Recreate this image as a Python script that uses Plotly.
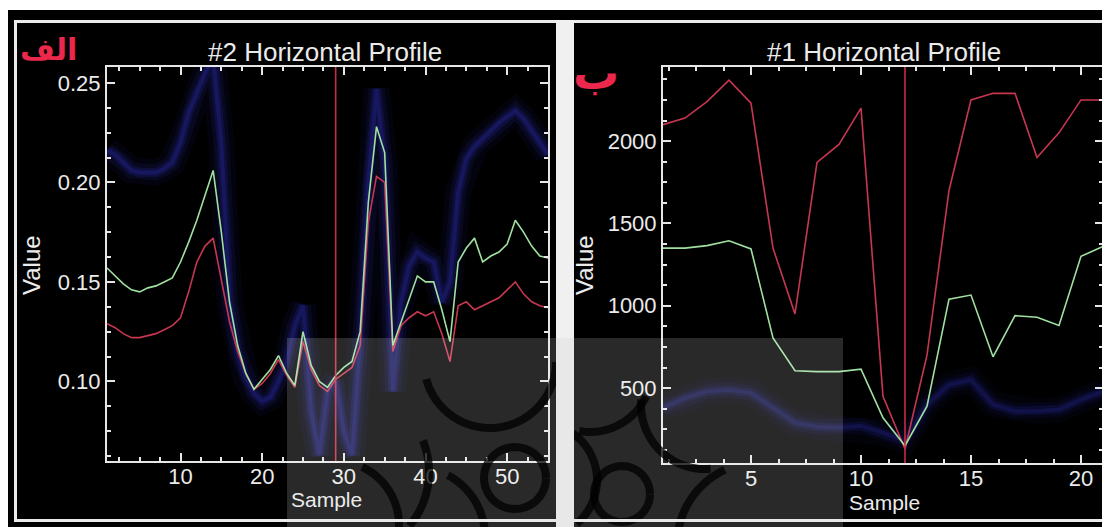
import numpy as np
import plotly.graph_objects as go

# page body has an 8px margin; figure fills the rest of the 1110x527 window
OFF = 8
W, H = 1110 - OFF, 527 - OFF

# ---------------- data ----------------
samples_left = list(range(1, 56))
green_left = [0.157, 0.153, 0.149, 0.146, 0.145, 0.147, 0.148, 0.150, 0.152, 0.160,
              0.170, 0.181, 0.193, 0.206, 0.175, 0.140, 0.118, 0.104, 0.096, 0.101,
              0.106, 0.113, 0.104, 0.098, 0.125, 0.108, 0.100, 0.097, 0.103, 0.107,
              0.110, 0.125, 0.190, 0.228, 0.215, 0.118, 0.130, 0.142, 0.153, 0.150,
              0.150, 0.136, 0.120, 0.160, 0.167, 0.172, 0.160, 0.163, 0.165, 0.169,
              0.181, 0.175, 0.168, 0.163, 0.162]
red_left = [0.129, 0.127, 0.124, 0.122, 0.122, 0.123, 0.124, 0.126, 0.128, 0.132,
            0.145, 0.160, 0.168, 0.172, 0.150, 0.130, 0.115, 0.104, 0.096, 0.099,
            0.104, 0.111, 0.103, 0.097, 0.120, 0.106, 0.098, 0.095, 0.101, 0.104,
            0.107, 0.118, 0.180, 0.203, 0.200, 0.115, 0.128, 0.132, 0.135, 0.133,
            0.135, 0.124, 0.110, 0.138, 0.140, 0.136, 0.138, 0.140, 0.142, 0.146,
            0.150, 0.144, 0.140, 0.138, 0.137]
blue_left = [0.216, 0.214, 0.210, 0.206, 0.205, 0.205, 0.205, 0.207, 0.210, 0.220,
             0.235, 0.245, 0.255, 0.262, 0.220, 0.140, 0.115, 0.102, 0.094, 0.090,
             0.092, 0.100, 0.110, 0.128, 0.138, 0.085, 0.063, 0.095, 0.100, 0.075,
             0.063, 0.120, 0.200, 0.247, 0.210, 0.095, 0.140, 0.158, 0.165, 0.162,
             0.160, 0.140, 0.150, 0.195, 0.212, 0.218, 0.222, 0.226, 0.230, 0.233,
             0.236, 0.232, 0.226, 0.220, 0.214]
cursor_left = 29

samples_right = list(range(1, 22))
red_right = [2100, 2140, 2240, 2370, 2230, 1350, 950, 1870, 1980, 2200, 450,
             130, 700, 1700, 2250, 2290, 2290, 1900, 2050, 2250, 2250]
green_right = [1350, 1350, 1365, 1395, 1345, 805, 605, 600, 600, 615, 320,
               150, 390, 1040, 1065, 690, 940, 930, 880, 1300, 1360]
blue_right = [380, 440, 480, 490, 470, 380, 290, 265, 260, 270, 230,
              180, 400, 520, 550, 400, 360, 360, 370, 430, 480]
cursor_right = 12

titles = ["#2 Horizontal Profile", "#1 Horizontal Profile"]
panel_marks = ["الف", "ب"]

# helpers: screen pixel (reference window) -> paper fraction
def PX(px):
    return (px - OFF) / W

def PY(py):
    return 1 - (py - OFF) / H

# ---------------- figure ----------------
fig = go.Figure()

def add_profile(xs, red, green, blue, xa, ya, glow):
    for w, a in [(26, 0.06 * glow), (16, 0.10 * glow), (9, 0.16 * glow), (4, 0.22 * glow)]:
        fig.add_trace(go.Scatter(x=xs, y=blue, mode="lines", xaxis=xa, yaxis=ya,
                                 line=dict(color=f"rgba(55,55,215,{a:.3f})", width=w),
                                 hoverinfo="skip", showlegend=False))
    fig.add_trace(go.Scatter(x=xs, y=red, mode="lines", xaxis=xa, yaxis=ya,
                             line=dict(color="rgb(200,55,80)", width=1.6),
                             showlegend=False))
    fig.add_trace(go.Scatter(x=xs, y=green, mode="lines", xaxis=xa, yaxis=ya,
                             line=dict(color="rgb(160,225,160)", width=1.6),
                             showlegend=False))

add_profile(samples_left, red_left, green_left, blue_left, "x", "y", 1.0)
add_profile(samples_right, red_right, green_right, blue_right, "x2", "y2", 0.75)

TICKFONT = dict(family="Liberation Sans, Arial, sans-serif", size=22, color="rgb(235,235,235)")

def axis_common(**kw):
    d = dict(showgrid=False, zeroline=False, showline=True, linecolor="rgb(230,230,230)",
             linewidth=2, mirror="ticks", ticks="inside", ticklen=8, tickwidth=1.5,
             tickcolor="rgb(230,230,230)", tickfont=TICKFONT, fixedrange=True)
    d.update(kw)
    return d

def minor(dt, t0=0):
    return dict(ticks="inside", ticklen=4, tickwidth=1.5, tickcolor="rgb(230,230,230)",
                dtick=dt, tick0=t0, showgrid=False)

fig.update_layout(
    width=W, height=H, autosize=False,
    margin=dict(l=0, r=0, t=0, b=0, pad=0),
    paper_bgcolor="black", plot_bgcolor="rgba(0,0,0,0)",
    showlegend=False,
    xaxis=axis_common(domain=[PX(107), PX(548)], range=[1, 55], dtick=10, tick0=0,
                      minor=minor(2.5), anchor="y", ticklabelstandoff=-5),
    yaxis=axis_common(domain=[PY(461), PY(67)], range=[0.06, 0.258], dtick=0.05, tick0=0,
                      tickformat=".2f", minor=minor(0.0125), anchor="x"),
    xaxis2=axis_common(domain=[PX(663), PX(1103)], range=[1, 21], dtick=5, tick0=0,
                       minor=minor(1.25), anchor="y2", ticklabelstandoff=-5),
    yaxis2=axis_common(domain=[PY(463), PY(67)], range=[45, 2450], dtick=500, tick0=0,
                       minor=minor(125), anchor="x2"),
)

shapes = []
def prect(x0, y0, x1, y1, color, layer="below"):
    shapes.append(dict(type="rect", xref="paper", yref="paper",
                       x0=PX(x0), x1=PX(x1), y0=PY(y1), y1=PY(y0),
                       fillcolor=color, line=dict(width=0), layer=layer))

# white surroundings / frame
prect(0, 0, 1110, 10, "white")
prect(14, 20, 1110, 23, "rgb(235,235,235)")
prect(14, 20, 17, 522, "rgb(235,235,235)")
prect(14, 519, 1110, 522, "rgb(235,235,235)")
prect(556, 20, 574, 527, "rgb(240,240,240)")

# cursor lines
for xa, ya, c in [("x", "y domain", cursor_left), ("x2", "y2 domain", cursor_right)]:
    shapes.append(dict(type="line", xref=xa, yref=ya, x0=c, x1=c, y0=0, y1=1,
                       line=dict(color="rgb(200,45,65)", width=1.6), layer="above"))

# watermark overlay
prect(287, 338, 843, 527, "rgba(255,255,255,0.16)", layer="above")

def arc_path(cx, cy, r, a0, a1, n=48):
    t = np.radians(np.linspace(a0, a1, n))
    xs = PX(cx + r * np.cos(t))
    ys = PY(cy + r * np.sin(t))
    return "M " + " L ".join(f"{x:.5f},{y:.5f}" for x, y in zip(xs, ys))

arcs = [
    (490, 362, 66, 0, 165),
    (515, 478, 31, 0, 360),
    (590, 370, 62, 25, 100),
    (705, 405, 64, 85, 185),
    (622, 494, 28, 0, 360),
    (540, 480, 57, -55, 50),
    (760, 545, 83, 190, 245),
    (335, 525, 64, -65, 2),
    (345, 472, 84, -22, 40),
    (415, 537, 70, -62, -5),
]
for a in arcs:
    shapes.append(dict(type="path", xref="paper", yref="paper", path=arc_path(*a),
                       line=dict(color="rgba(0,0,0,0.75)", width=8), layer="above"))

# white frame pieces lying over the watermark
prect(556, 338, 574, 527, "rgb(232,232,232)", layer="above")
prect(287, 519, 843, 522, "rgb(232,232,232)", layer="above")

fig.update_layout(shapes=shapes)

ann = []
def ptext(x, y, text, size, color="rgb(235,235,235)", angle=0, bold=False, family=None):
    fam = family or "Liberation Sans, Arial, sans-serif"
    ann.append(dict(x=PX(x), y=PY(y), xref="paper", yref="paper", text=text,
                    showarrow=False, textangle=angle, xanchor="center", yanchor="middle",
                    font=dict(family=fam, size=size, color=color,
                              weight="bold" if bold else "normal")))

ptext(325, 52, titles[0], 26)
ptext(884, 52, titles[1], 26)
ptext(31, 265, "Value", 24, angle=-90)
ptext(584, 265, "Value", 24, angle=-90)
ptext(326, 499, "Sample", 21)
ptext(884, 502, "Sample", 21)
ptext(48, 50, panel_marks[0], 30, color="rgb(235,40,75)", bold=True, family="DejaVu Sans")
ptext(596, 73, panel_marks[1], 46, color="rgb(235,40,75)", bold=True, family="DejaVu Sans")
fig.update_layout(annotations=ann)

fig.write_html("out.html")
